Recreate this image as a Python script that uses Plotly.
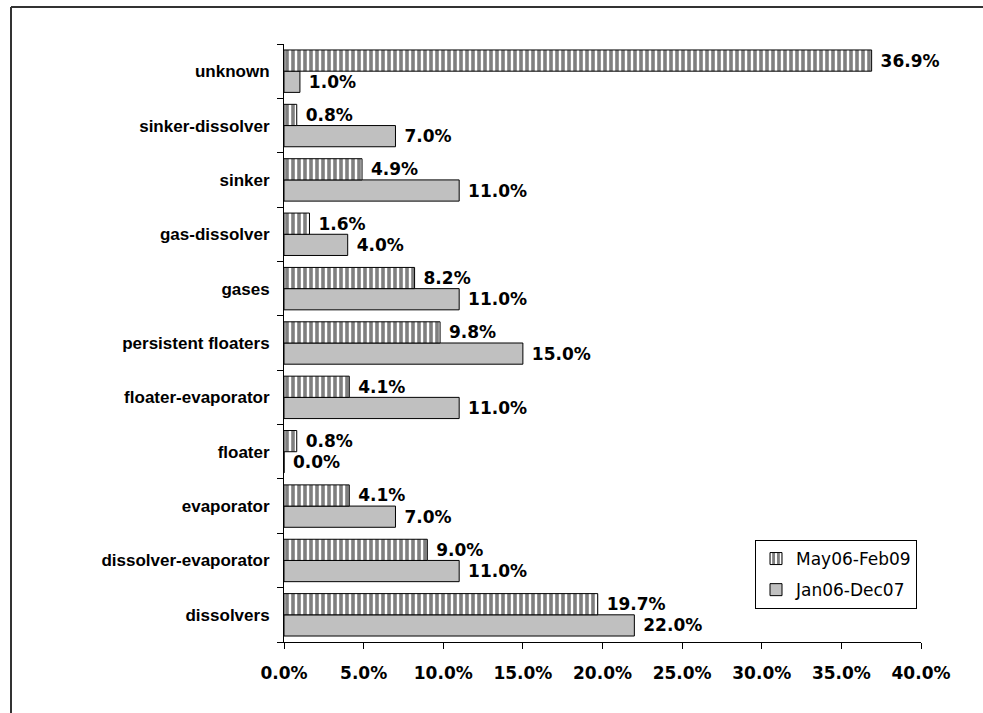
import plotly.graph_objects as go

# Categories listed bottom-to-top as drawn on the y axis
categories = [
    "dissolvers", "dissolver-evaporator", "evaporator", "floater",
    "floater-evaporator", "persistent floaters", "gases", "gas-dissolver",
    "sinker", "sinker-dissolver", "unknown",
]
may06_feb09 = [19.7, 9.0, 4.1, 0.8, 4.1, 9.8, 8.2, 1.6, 4.9, 0.8, 36.9]
jan06_dec07 = [22.0, 11.0, 7.0, 0.0, 11.0, 15.0, 11.0, 4.0, 11.0, 7.0, 1.0]
x_ticks = [0, 5, 10, 15, 20, 25, 30, 35, 40]

SANS = "Liberation Sans, Arial, sans-serif"
WIDE = "DejaVu Sans, Verdana, sans-serif"
W, H = 983, 713
L, R, T, B = 284, 62, 44, 71
PW, PH = W - L - R, H - T - B

label_font = dict(family=WIDE, size=17, color="black", weight="bold")

fig = go.Figure()
fig.add_trace(go.Bar(
    y=categories, x=jan06_dec07, orientation="h", name="Jan06-Dec07",
    legendgroup="jan", legendrank=2,
    marker=dict(color="#C0C0C0", line=dict(color="black", width=1)),
    texttemplate=" %{x:.1f}%", textposition="outside", cliponaxis=False,
    textfont=label_font,
))
fig.add_trace(go.Bar(
    y=categories, x=may06_feb09, orientation="h", name="May06-Feb09",
    legendgroup="may", legendrank=1,
    marker=dict(color="white", line=dict(color="black", width=1),
                pattern=dict(shape="|", fgcolor="black", bgcolor="white",
                             size=6, solidity=0.6, fillmode="overlay")),
    texttemplate=" %{x:.1f}%", textposition="outside", cliponaxis=False,
    textfont=label_font,
))

# Outer frame (left and top edges)
def px_x(px):
    return (px - L) / PW

def px_y(py):
    return (H - B - py) / PH

frame = dict(type="line", xref="paper", yref="paper",
             line=dict(color="#333333", width=2), layer="above")
fig.add_shape(**frame, x0=px_x(11), x1=px_x(W + 5), y0=px_y(7), y1=px_y(7))
fig.add_shape(**frame, x0=px_x(11), x1=px_x(11), y0=px_y(7), y1=px_y(H + 5))

fig.update_layout(
    width=W, height=H,
    margin=dict(l=L, r=R, t=T, b=B),
    paper_bgcolor="white", plot_bgcolor="white",
    barmode="group", bargap=0.22, bargroupgap=0.0,
    font=dict(family=SANS, color="black"),
    showlegend=True,
    legend=dict(
        x=px_x(755), y=px_y(540), xanchor="left", yanchor="top",
        traceorder="grouped", bordercolor="black", borderwidth=1,
        bgcolor="white", font=dict(family=WIDE, size=17, color="black"),
        itemwidth=30, tracegroupgap=6,
    ),
    xaxis=dict(
        range=[0, 40], tickvals=x_ticks, ticktext=[f"{v:.1f}%" for v in x_ticks],
        showgrid=False, zeroline=False, showline=True, linecolor="black",
        linewidth=1, ticks="outside", ticklen=6, tickcolor="black",
        tickfont=dict(family=WIDE, size=17, color="black", weight="bold"),
        ticklabelstandoff=10,
    ),
    yaxis=dict(
        categoryorder="array", categoryarray=categories,
        showgrid=False, zeroline=False, showline=True, linecolor="black",
        linewidth=1, ticks="outside", ticklen=6, tickcolor="black",
        tickson="boundaries",
        tickfont=dict(family=SANS, size=17, color="black", weight="bold"),
        ticklabelstandoff=10,
    ),
)

fig.write_html("out.html")
